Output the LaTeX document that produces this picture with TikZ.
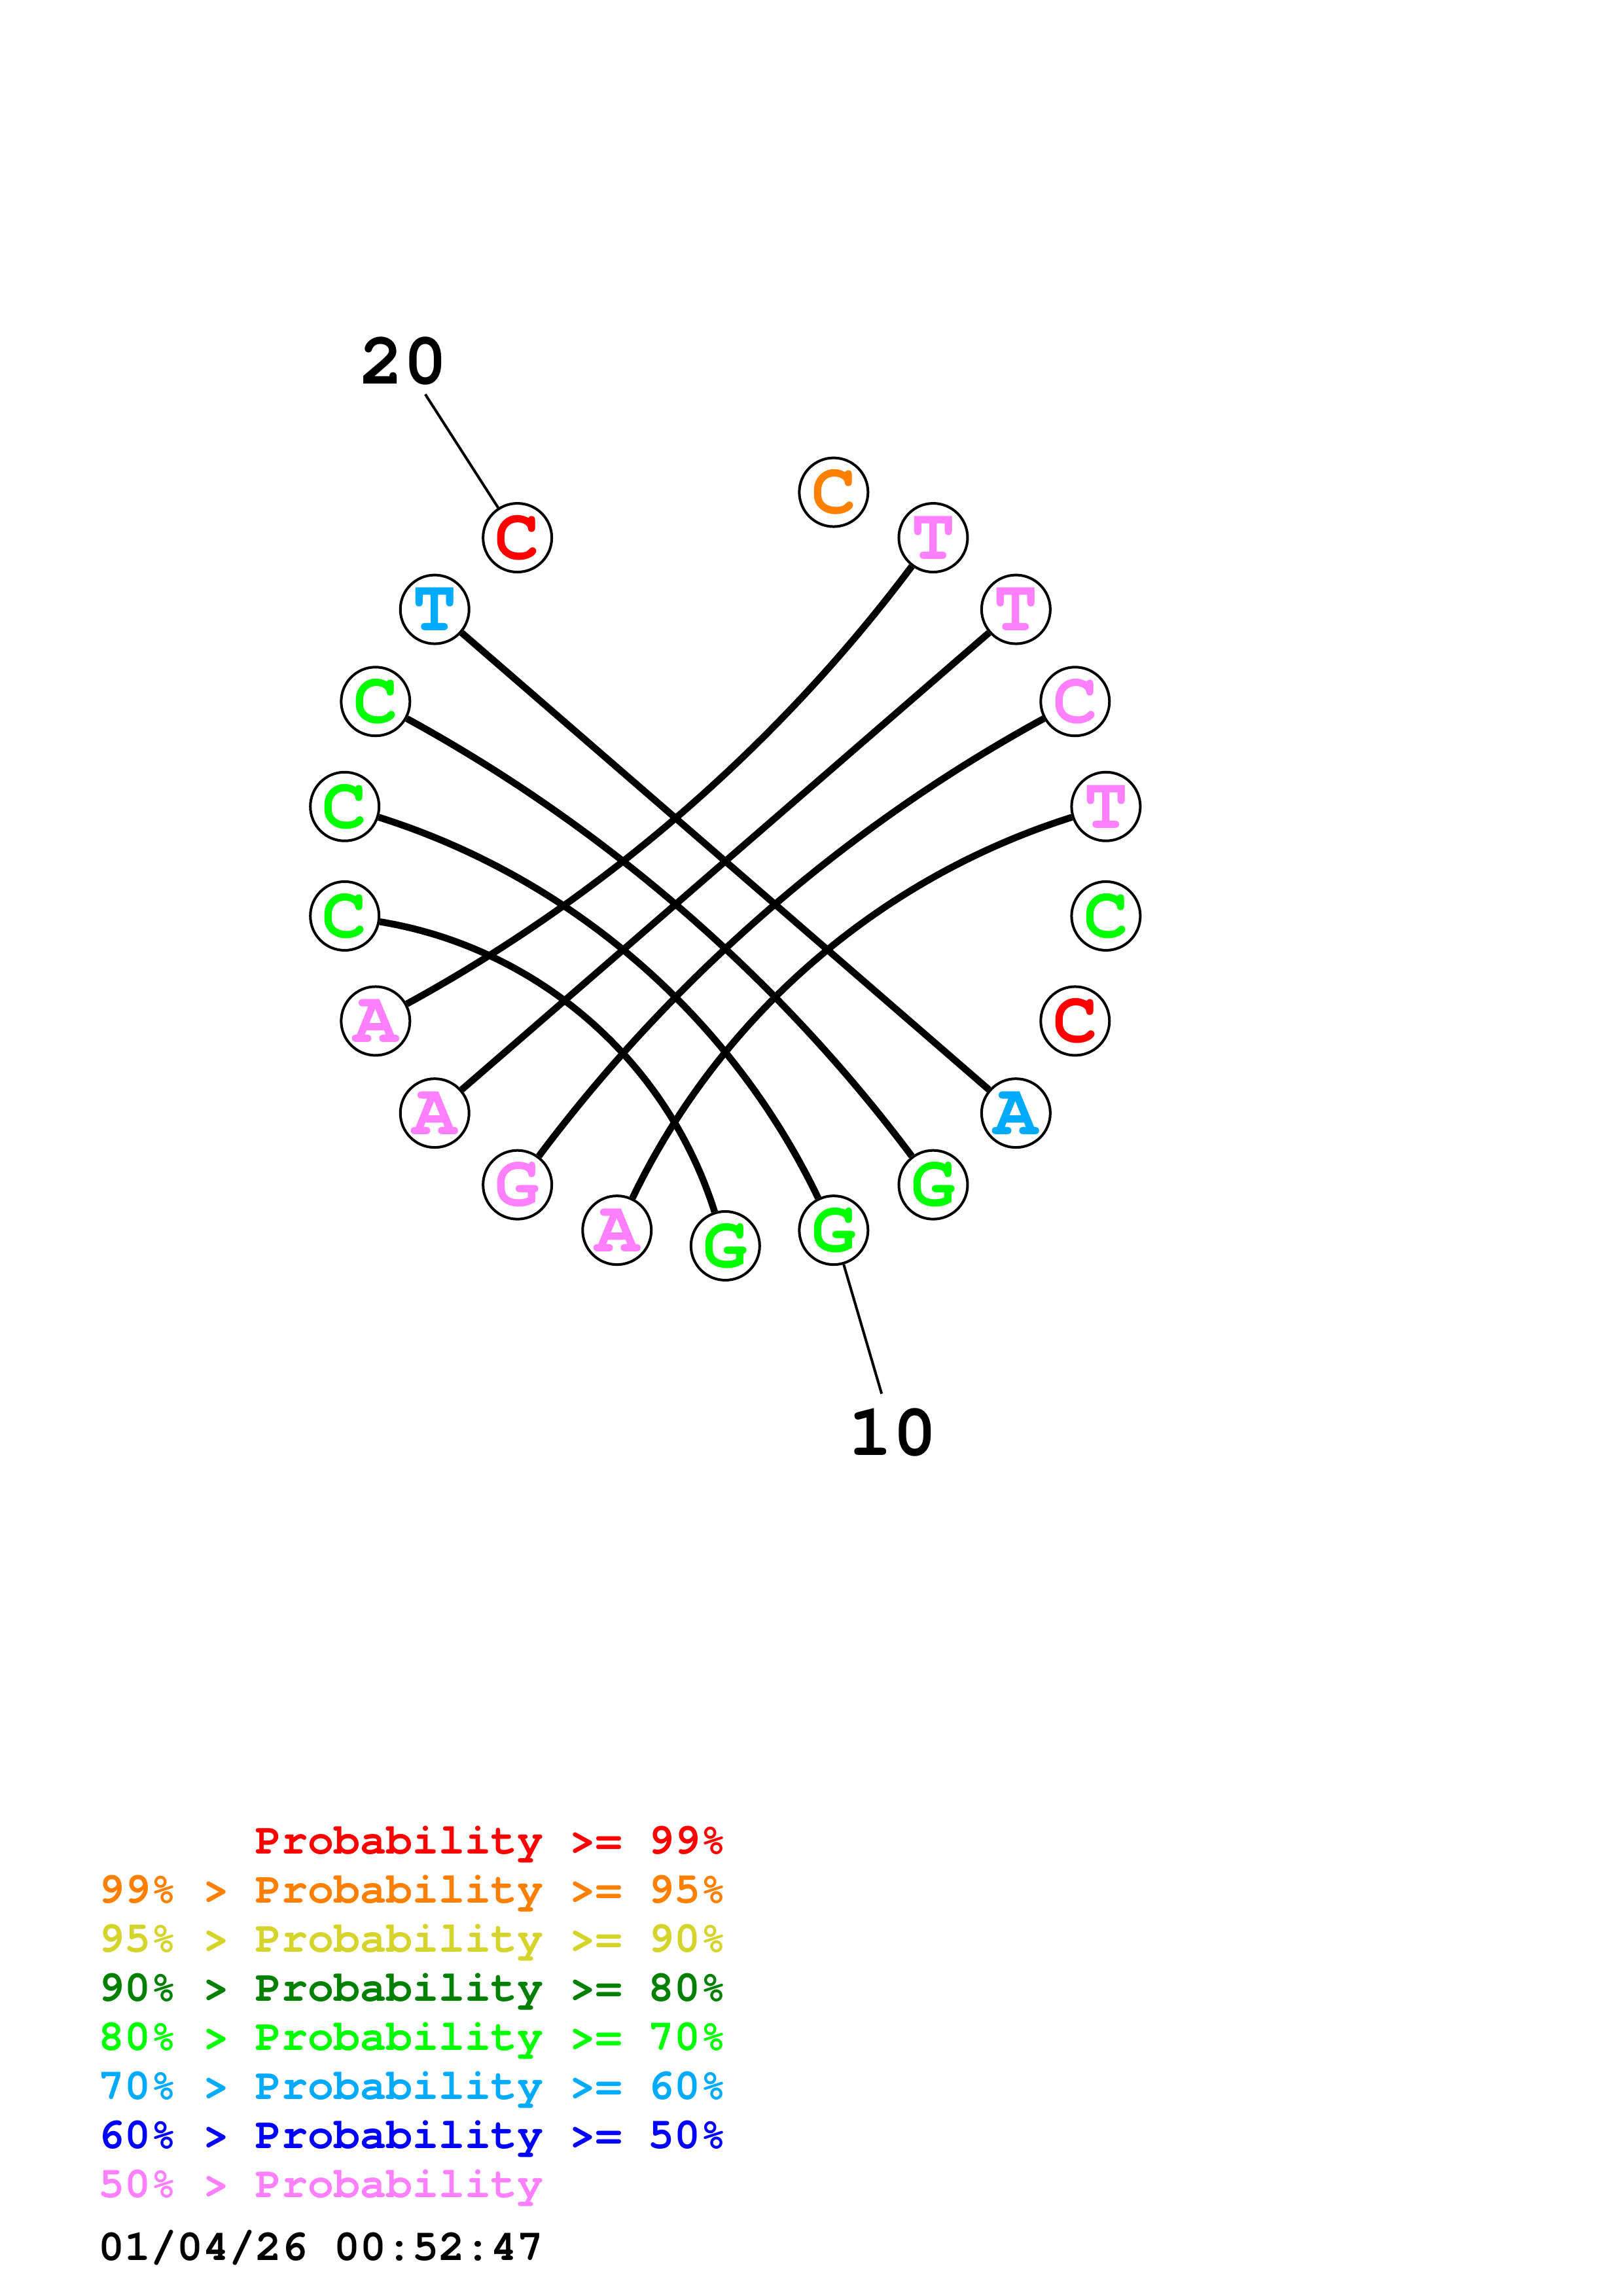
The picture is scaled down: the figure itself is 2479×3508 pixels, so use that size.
\documentclass[tikz,border=0pt]{standalone}
\usepackage{fontspec}
\newfontfamily\cour{TeX Gyre Cursor}
\definecolor{cred}{RGB}{255,0,0}
\definecolor{corange}{RGB}{255,128,0}
\definecolor{cyellow}{RGB}{212,212,44}
\definecolor{cdgreen}{RGB}{0,128,0}
\definecolor{cgreen}{RGB}{0,255,0}
\definecolor{clblue}{RGB}{0,170,255}
\definecolor{cblue}{RGB}{0,0,255}
\definecolor{cpink}{RGB}{255,128,255}
\tikzset{
  base/.style={circle,draw=black,fill=white,line width=0.96pt,minimum size=25.2pt,inner sep=0pt,
    font=\cour\bfseries\fontsize{27}{30}\selectfont},
  numlabel/.style={inner sep=0pt,font=\cour\bfseries\fontsize{27}{30}\selectfont},
  pairline/.style={line width=2.5pt,black},
  tick/.style={line width=0.96pt,black},
  legend/.style={inner sep=0pt,anchor=base west,font=\cour\bfseries\fontsize{16}{18}\selectfont}
}
\begin{document}
\begin{tikzpicture}[x=0.24pt,y=0.24pt]
\useasboundingbox[fill=white] (0,0) rectangle (2479,3508);
\begin{scope}[shift={(1108.3,2192.1)}]
\foreach \i/\b/\c in {1/C/corange,2/T/cpink,3/T/cpink,4/C/cpink,5/T/cpink,6/C/cgreen,7/C/cred,8/A/clblue,9/G/cgreen,10/G/cgreen,11/G/cgreen,12/A/cpink,13/G/cpink,14/A/cpink,15/A/cpink,16/C/cgreen,17/C/cgreen,18/C/cgreen,19/T/clblue,20/C/cred}{
  \node[base,text=\c] (n\i) at ({90-\i*360/22}:587.6) {\b};
}
\coordinate (t20) at ({90-20*360/22}:848);
\coordinate (t10) at ({90-10*360/22}:848);
\node[numlabel] (l20) at ({90-20*360/22}:909) {20};
\node[numlabel] (l10) at ({90-10*360/22}:909) {10};
\end{scope}
\draw[tick] (n20) -- (t20);
\draw[tick] (n10) -- (t10);
\draw[pairline] (n19) -- (n8);
\draw[pairline] (n14) -- (n3);
\draw[pairline] (n18) to[bend left=12.25,looseness=0.86] (n9);
\draw[pairline] (n17) to[bend left=23.4,looseness=0.89] (n10);
\draw[pairline] (n16) to[bend left=31.6,looseness=0.92] (n11);
\draw[pairline] (n15) to[bend right=12.25,looseness=0.86] (n2);
\draw[pairline] (n13) to[bend left=12.25,looseness=0.86] (n4);
\draw[pairline] (n12) to[bend left=23.4,looseness=0.89] (n5);
\node[legend,text=cred] (g1) at (150,{3508-2832.3}) {\phantom{99\% > }Probability >= 99\%};
\node[legend,text=corange] (g2) at (150,{3508-2907.3}) {99\% > Probability >= 95\%};
\node[legend,text=cyellow] (g3) at (150,{3508-2982.3}) {95\% > Probability >= 90\%};
\node[legend,text=cdgreen] (g4) at (150,{3508-3057.3}) {90\% > Probability >= 80\%};
\node[legend,text=cgreen] (g5) at (150,{3508-3132.3}) {80\% > Probability >= 70\%};
\node[legend,text=clblue] (g6) at (150,{3508-3207.3}) {70\% > Probability >= 60\%};
\node[legend,text=cblue] (g7) at (150,{3508-3282.3}) {60\% > Probability >= 50\%};
\node[legend,text=cpink] (g8) at (150,{3508-3357.3}) {50\% > Probability};
\node[legend,text=black] (date) at (150,{3508-3453.3}) {01/04/26 00:52:47};
\end{tikzpicture}
\end{document}
